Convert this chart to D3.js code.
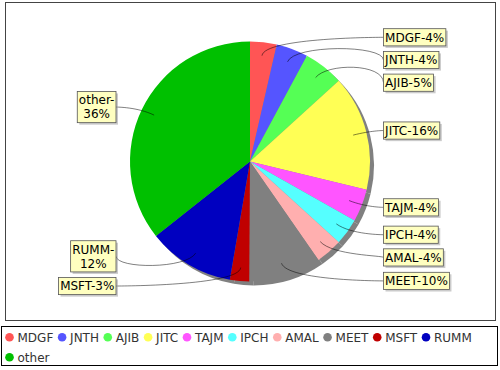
<!DOCTYPE html>
<html><head><meta charset="utf-8">
<script src="https://cdn.jsdelivr.net/npm/d3@7"></script>
<style>html,body{margin:0;padding:0;background:#fff;}svg{display:block;font-family:"DejaVu Sans",sans-serif;}</style>
</head><body>
<svg id="c" width="500" height="370"></svg>
<script>
const categories = ["MDGF","JNTH","AJIB","JITC","TAJM","IPCH","AMAL","MEET","MSFT","RUMM","other"];
const values = [3.6, 4.3, 5.4, 15.6, 4.4, 3.6, 3.6, 9.8, 2.6, 11.7, 35.8];
const colors = ["#FF5555","#5555FF","#55FF55","#FFFF55","#FF55FF","#55FFFF","#FFAFAF","#808080","#C00000","#0000C0","#00C000"];

const svg = d3.select("#c");
const plot = {x: 5.5, y: 2.5, w: 490, h: 318};
const cx = 250, cy = 161.5, r = 120;
const linkR = 125, innerLinkR = 106.5;
const fontSize = 12, lineH = 14, pad = 1.6, minGap = 5.5;
const rightLabelX = 383.5, leftLabelRight = 116, leftWrapWidth = 60;

svg.append("rect").attr("x", 0).attr("y", 0).attr("width", 500).attr("height", 370).attr("fill", "#fff");
svg.append("rect").attr("x", plot.x).attr("y", plot.y).attr("width", plot.w).attr("height", plot.h)
  .attr("fill", "#fff").attr("stroke", "#444").attr("stroke-width", 1);

const total = d3.sum(values);
const pie = d3.pie().sort(null).value(d => d.v)(categories.map((c, i) => ({c, v: values[i], col: colors[i]})));
const arc = d3.arc().innerRadius(0).outerRadius(r);

const g = svg.append("g").attr("transform", `translate(${cx},${cy})`);
// shadow
g.append("g").attr("transform", "translate(4,4)").selectAll("path").data(pie).join("path")
  .attr("d", arc).attr("fill", "#808080");
g.selectAll("path.s").data(pie).join("path").attr("class", "s")
  .attr("d", arc).attr("fill", d => d.data.col);

// measure helper
const meas = svg.append("text").attr("font-size", fontSize).attr("x", -1000).attr("y", -1000);
function tw(s) { meas.text(s); return meas.node().getComputedTextLength(); }

// labels
const labels = pie.map(d => {
  const mid = (d.startAngle + d.endAngle) / 2;
  const pct = Math.round(d.data.v / total * 100);
  const text = d.data.c + "-" + pct + "%";
  const right = Math.sin(mid) >= 0;
  let lines = [text];
  if (!right && tw(text) > leftWrapWidth) lines = [d.data.c + "-", pct + "%"];
  const w = d3.max(lines, tw) + 2 * pad;
  const h = lines.length * lineH + 2 * pad;
  return {d, mid, right, lines, w, h, y: cy - linkR * Math.cos(mid)};
});
// right side: push downward in order
const rightL = labels.filter(l => l.right);
for (let i = 1; i < rightL.length; i++) {
  const p = rightL[i - 1], q = rightL[i];
  const minY = p.y + p.h / 2 + minGap + q.h / 2;
  if (q.y < minY) q.y = minY;
}
// left side: push upward in order
const leftL = labels.filter(l => !l.right);
for (let i = 1; i < leftL.length; i++) {
  const p = leftL[i - 1], q = leftL[i];
  const maxY = p.y - p.h / 2 - minGap - q.h / 2;
  if (q.y > maxY) q.y = maxY;
}

const lg = svg.append("g");
labels.forEach(l => {
  const bx = l.right ? rightLabelX : leftLabelRight - l.w;
  const by = l.y - l.h / 2;
  const tx = l.right ? bx : bx + l.w;
  const anchorX = l.right ? cx + linkR + 8 : cx - linkR - 8;
  const ex = cx + linkR * Math.sin(l.mid), ey = cy - linkR * Math.cos(l.mid);
  const lx = cx + innerLinkR * Math.sin(l.mid), ly = cy - innerLinkR * Math.cos(l.mid);
  const p = d3.path();
  p.moveTo(tx, l.y);
  p.bezierCurveTo(anchorX, ey, ex, ey, lx, ly);
  lg.append("path").attr("d", p.toString()).attr("fill", "none").attr("stroke", "#000").attr("stroke-width", 0.5);
  lg.append("rect").attr("x", bx + 2).attr("y", by + 2).attr("width", l.w).attr("height", l.h)
    .attr("fill", "rgba(151,151,151,0.5)");
  lg.append("rect").attr("x", bx).attr("y", by).attr("width", l.w).attr("height", l.h)
    .attr("fill", "#FFFFC0").attr("stroke", "#555").attr("stroke-width", 0.8);
  l.lines.forEach((s, i) => {
    lg.append("text").attr("x", bx + l.w / 2).attr("y", by + pad + lineH * i + lineH / 2)
      .attr("dy", "0.36em").attr("text-anchor", "middle").attr("font-size", fontSize).attr("fill", "#000").text(s);
  });
});

// legend
const leg = {x: 1.5, y: 326.5, w: 496, h: 39};
svg.append("rect").attr("x", leg.x).attr("y", leg.y).attr("width", leg.w).attr("height", leg.h)
  .attr("fill", "#fff").attr("stroke", "#000").attr("stroke-width", 1);
let lx0 = 9.5, row = 0;
const rowY = [337.3, 357.3];
categories.forEach((c, i) => {
  const w = tw(c);
  if (lx0 + 8 + w > leg.x + leg.w - 2) { row++; lx0 = 9.5; }
  const y = rowY[row];
  svg.append("circle").attr("cx", lx0).attr("cy", y).attr("r", 4.3).attr("fill", colors[i]);
  svg.append("text").attr("x", lx0 + 8).attr("y", y).attr("dy", "0.36em").attr("font-size", fontSize)
    .attr("fill", "#333").text(c);
  lx0 += 8 + w + 8.8;
});
meas.remove();
</script>
</body></html>
